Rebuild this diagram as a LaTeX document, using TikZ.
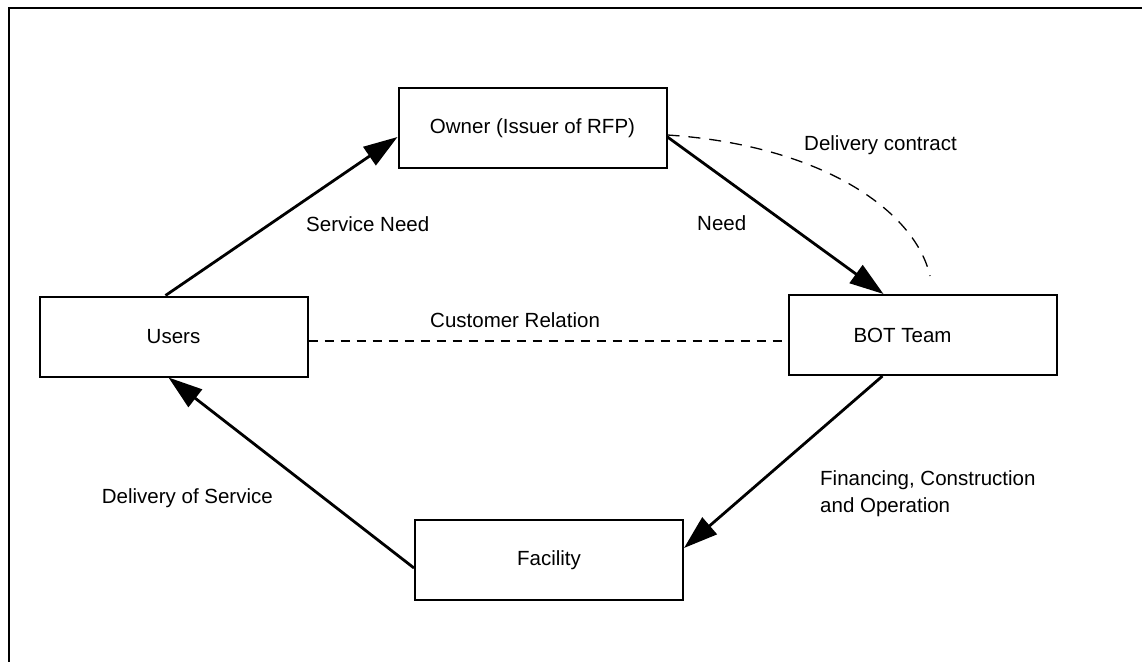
\documentclass[tikz,border=0pt]{standalone}
\usepackage{fontspec}
\setmainfont{Liberation Sans}
\usetikzlibrary{arrows.meta}
\newcommand\diaglbl{\fontsize{20.5}{27}\selectfont}
\begin{document}
\begin{tikzpicture}[x=1pt,y=-1pt,
  box/.style={draw, line width=2pt, minimum width=268pt, minimum height=80pt, inner sep=0pt, font=\diaglbl},
  flow/.style={line width=2.8pt, -{Triangle[length=34pt,width=22pt]}},
  rel/.style={line width=1.3pt, dash pattern=on 9pt off 7pt},
  relcurve/.style={line width=1.3pt, dash pattern=on 12pt off 9pt},
  lbl/.style={font=\diaglbl, inner sep=0pt},
  frame/.style={line width=2pt}]
\useasboundingbox (0,0) rectangle (1142,661);
\draw[frame] (1150,8) -- (9,8) -- (9,670);
% boxes
\node[box] (owner) at (532.5,128) {Owner (Issuer of RFP)};
\node[box] (users) at (173.5,336.5) {Users};
\node[box] (bot) at (922.5,335) {BOT Team\hspace*{40pt}};
\node[box] (fac) at (549,560) {Facility};
% labels
\node[lbl, anchor=base west] (sn) at (306,231) {Service Need};
\node[lbl, anchor=base west] (nd) at (697,230) {Need};
\node[lbl, anchor=base west] (dcl) at (804,150) {Delivery contract};
\node[lbl, anchor=base west] (cr) at (430,327) {Customer Relation};
\node[lbl, anchor=base east] (ds) at (273,503) {Delivery of Service};
\node[lbl, anchor=north west, align=left] (fco) at (820,470) {Financing, Construction\\and Operation};
% connectors
\draw[flow] ([xshift=-8pt]users.north) -- ([yshift=-9pt]owner.west);
\draw[flow] ([yshift=-9pt]owner.east) -- ([xshift=-39pt]bot.north);
\draw[flow] ([xshift=-40pt]bot.south) -- ([yshift=12pt]fac.east);
\draw[flow] ([yshift=-8pt]fac.west) -- ([xshift=-5pt]users.south);
\draw[rel] ([yshift=-4.5pt]users.east) -- ([yshift=-6pt]bot.west);
\coordinate (dcend) at (930,276);
\draw[relcurve] ([yshift=-7pt]owner.east) .. controls (820,145) and (915,210) .. (dcend);
\end{tikzpicture}
\end{document}
